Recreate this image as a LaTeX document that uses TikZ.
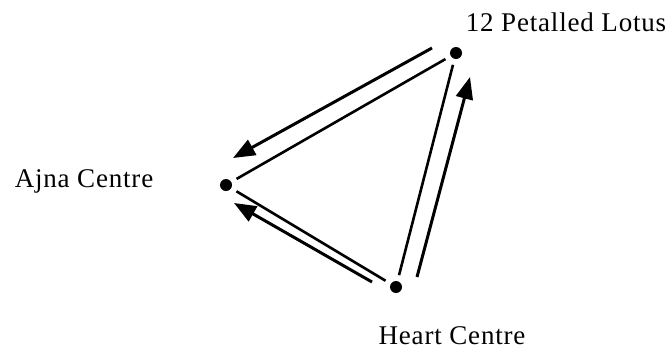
\documentclass[tikz,border=0pt]{standalone}
\usepackage{fontspec}
\setmainfont[LetterSpace=3]{Liberation Serif}
\usetikzlibrary{positioning,arrows.meta}

\begin{document}
\begin{tikzpicture}[
x=1pt,y=-1pt,
centre/.style={circle,fill,inner sep=0pt,minimum size=12pt},
caption/.style={font=\fontsize{27}{32}\selectfont,inner sep=0pt},
edge/.style={line width=2.6pt,shorten >=6pt,shorten <=6pt},
flow/.style={line width=3pt,-{Triangle[length=22pt,width=17pt]}},
>=Triangle
]
\useasboundingbox (0,0) rectangle (671,351);

\node[centre] (lotus) at (456,53) {};
\node[centre] (ajna) at (226,185) {};
\node[centre] (heart) at (396,287) {};

\node[caption] (lotuslabel) at (566,22) {12 Petalled Lotus};
\node[caption] (ajnalabel) at (84,181) {Ajna Centre};
\node[caption] (heartlabel) at (452,336) {Heart Centre};

% triangle
\draw[edge] (lotus)--(ajna);
\draw[edge] (ajna)--(heart);
\draw[edge] (heart)--(lotus);

% flow arrows
\coordinate (lotusout) at (432,48);
\coordinate (ajnain1) at (233,158);
\coordinate (heartout1) at (372,282);
\coordinate (ajnain2) at (234,203);
\coordinate (heartout2) at (417,277);
\coordinate (lotusin) at (470,77);

\draw[flow] (lotusout)--(ajnain1);
\draw[flow] (heartout1)--(ajnain2);
\draw[flow] (heartout2)--(lotusin);

\end{tikzpicture}
\end{document}
